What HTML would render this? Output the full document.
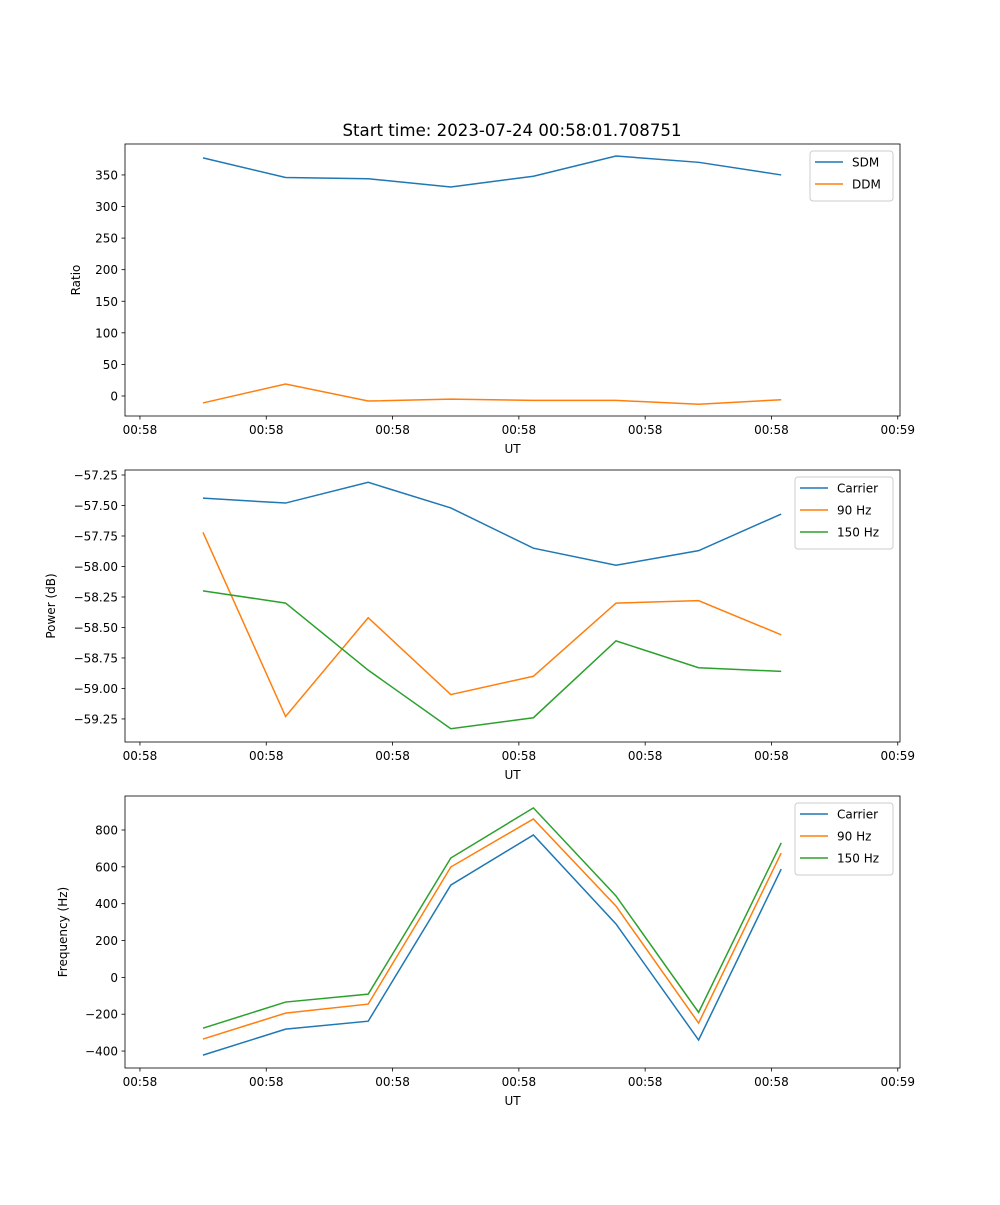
<!DOCTYPE html>
<html><head><meta charset="utf-8"><style>
body{margin:0;background:#fff}
svg text{font-family:"DejaVu Sans","Liberation Sans",sans-serif;fill:#000}
</style></head><body>
<svg id="fig" width="1000" height="1200" xmlns="http://www.w3.org/2000/svg">
<rect width="1000" height="1200" fill="#fff"/>
<text x="512" y="136" font-size="16.6" text-anchor="middle">Start time: 2023-07-24 00:58:01.708751</text>
</svg>
<script>
const pointIndex=[0,1,2,3,4,5,6,7];
const xTickValues=[-0.763,0.766,2.295,3.824,5.353,6.882,8.411];
const xTickLabels=["00:58","00:58","00:58","00:58","00:58","00:58","00:59"];
const sdm=[377,346,344,331,348,380,370,350];
const ddm=[-11,19,-8,-5,-7,-7,-13,-6];
const ratioTicks=[0,50,100,150,200,250,300,350];
const pCarrier=[-57.44,-57.48,-57.31,-57.52,-57.85,-57.99,-57.87,-57.57];
const p90=[-57.72,-59.23,-58.42,-59.05,-58.90,-58.30,-58.28,-58.56];
const p150=[-58.20,-58.30,-58.85,-59.33,-59.24,-58.61,-58.83,-58.86];
const powerTicks=[-57.25,-57.5,-57.75,-58,-58.25,-58.5,-58.75,-59,-59.25];
const fCarrier=[-422,-281,-238,501,773,290,-340,588];
const f90=[-335,-194,-145,599,860,387,-248,675];
const f150=[-276,-134,-91,648,920,442,-190,730];
const freqTicks=[-400,-200,0,200,400,600,800];

const NS="http://www.w3.org/2000/svg";
const svg=document.getElementById('fig');
const L=125,R=900,XMIN=-0.944,XMAX=8.438;
const xs=v=>L+(v-XMIN)/(XMAX-XMIN)*(R-L);
function mk(t,a,p){const e=document.createElementNS(NS,t);for(const k in a)e.setAttribute(k,a[k]);(p||svg).appendChild(e);return e;}
function panel(name,top,bot,ymin,ymax,ticks,fmt,ylabel,series,leg){
  const ys=v=>bot-(v-ymin)/(ymax-ymin)*(bot-top);
  const g=mk('g',{});
  
  
  series.forEach(s=>{
    const pl=mk('polyline',{points:s.d.map((v,i)=>xs(pointIndex[i])+','+ys(v)).join(' '),fill:'none',stroke:s.c,'stroke-width':1.5},g);
    
    
  });
  mk('rect',{x:L,y:top,width:R-L,height:bot-top,fill:'none',stroke:'#000','stroke-width':0.8},g);
  xTickValues.forEach((v,i)=>{const x=xs(v);
    mk('line',{x1:x,x2:x,y1:bot,y2:bot+3.5,stroke:'#000','stroke-width':0.8},g);
    const t=mk('text',{x:x,y:bot+18,'font-size':12,'text-anchor':'middle'},g);t.textContent=xTickLabels[i];
    
    });
  ticks.forEach(v=>{const y=ys(v);
    mk('line',{x1:L-3.5,x2:L,y1:y,y2:y,stroke:'#000','stroke-width':0.8},g);
    const t=mk('text',{x:L-7,y:y+4.5,'font-size':12,'text-anchor':'end'},g);t.textContent=fmt(v).replace('-','\u2212');
    
    });
  const xl=mk('text',{x:(L+R)/2,y:bot+37,'font-size':12,'text-anchor':'middle'},g);xl.textContent='UT';
  
  
  const yl=mk('text',{x:0,y:0,'font-size':12,'text-anchor':'middle',transform:`translate(${leg.yx},${(top+bot)/2}) rotate(-90)`},g);yl.textContent=ylabel;
  
  
  const lg=mk('g',{},g);
  
  
  mk('rect',{x:leg.x,y:top+7,width:R-7-leg.x,height:series.length*22+6,fill:'#fff',stroke:'#ccc',rx:3},lg);
  series.forEach((s,i)=>{const y=top+18+i*22;
    mk('line',{x1:leg.x+5,x2:leg.x+33,y1:y,y2:y,stroke:s.c,'stroke-width':1.5},lg);
    const t=mk('text',{x:leg.x+42,y:y+4.5,'font-size':12},lg);t.textContent=s.label;
    
    });
}
panel('ratio-panel',144,416,-31.7,399,ratioTicks,v=>String(v),'Ratio',
  [{d:sdm,c:'#1f77b4',n:'sdm-line',label:'SDM'},{d:ddm,c:'#ff7f0e',n:'ddm-line',label:'DDM'}],{x:810,yx:80});
panel('power-panel',470,742,-59.439,-57.209,powerTicks,v=>v.toFixed(2),'Power (dB)',
  [{d:pCarrier,c:'#1f77b4',n:'power-carrier-line',label:'Carrier'},{d:p90,c:'#ff7f0e',n:'power-90hz-line',label:'90 Hz'},{d:p150,c:'#2ca02c',n:'power-150hz-line',label:'150 Hz'}],{x:795,yx:55});
panel('frequency-panel',796,1068,-492,984.6,freqTicks,v=>String(v),'Frequency (Hz)',
  [{d:fCarrier,c:'#1f77b4',n:'freq-carrier-line',label:'Carrier'},{d:f90,c:'#ff7f0e',n:'freq-90hz-line',label:'90 Hz'},{d:f150,c:'#2ca02c',n:'freq-150hz-line',label:'150 Hz'}],{x:795,yx:67});
</script>
</body></html>
